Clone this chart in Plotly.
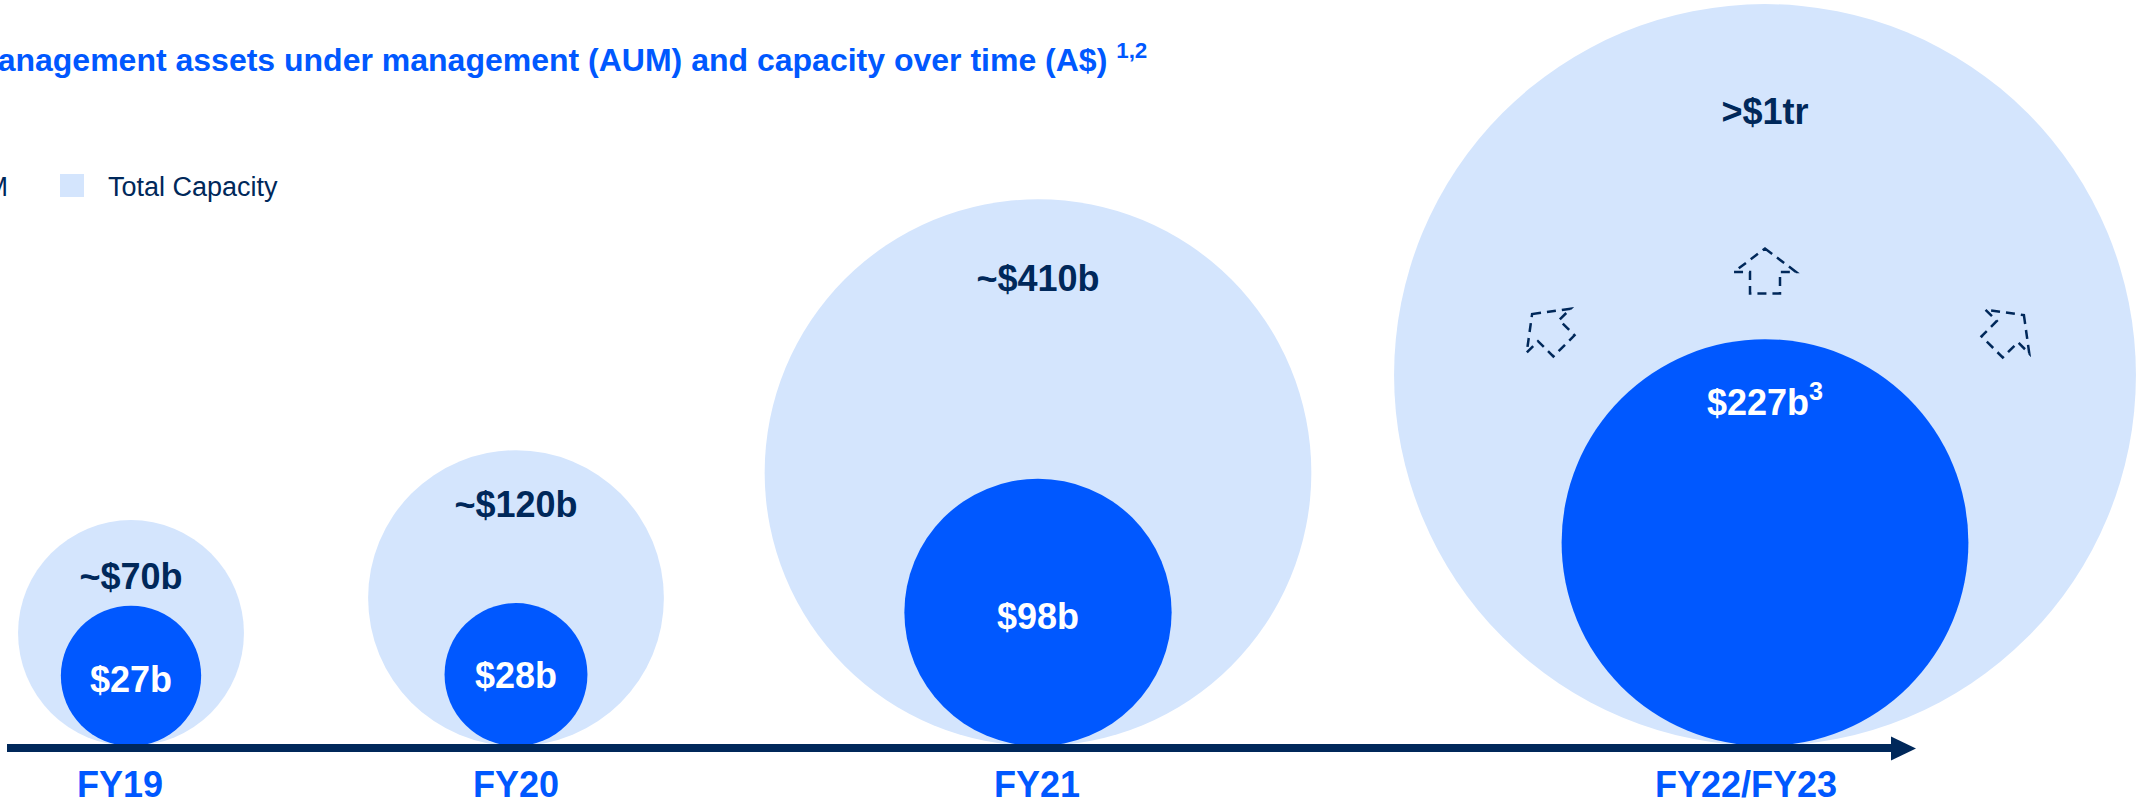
import math
import plotly.graph_objects as go

# ---------------- data ----------------
years = ["FY19", "FY20", "FY21", "FY22/FY23"]
capacity_labels = ["~$70b", "~$120b", "~$410b", ">$1tr"]
# bubble area as drawn (A$ bn); the >$1tr bubble is drawn capped in the original
capacity_bn = [70, 120, 410, 755]
aum_labels = ["$27b", "$28b", "$98b", "$227b<sup>3</sup>"]
aum_bn = [27, 28, 98, 227]

# ---------------- layout helpers (page-pixel space) ----------------
W, H = 2141, 804
x_pos = [131, 516, 1038, 1765]
year_label_x = [120, 516, 1037, 1746]
year_label_y = 788
baseline_y = 746
px_per_sqrt_bn = 13.5
cap_label_y = [580, 508, 282, 115]
aum_label_y = [683, 679, 620, 406]

LIGHT = "#D4E5FD"
BLUE = "#0058FF"
NAVY = "#00285A"
FONT = "Liberation Sans, Arial, sans-serif"

cap_r = [px_per_sqrt_bn * math.sqrt(v) for v in capacity_bn]
aum_r = [px_per_sqrt_bn * math.sqrt(v) for v in aum_bn]

fig = go.Figure()

fig.add_trace(go.Scatter(
    x=x_pos, y=[baseline_y - r for r in cap_r], mode="markers",
    marker=dict(size=[2 * r for r in cap_r], sizemode="diameter", color=LIGHT,
                opacity=1, line=dict(width=0)),
    name="Total Capacity", hoverinfo="skip", showlegend=False))

fig.add_trace(go.Scatter(
    x=x_pos, y=[baseline_y - r for r in aum_r], mode="markers",
    marker=dict(size=[2 * r for r in aum_r], sizemode="diameter", color=BLUE,
                opacity=1, line=dict(width=0)),
    name="AUM", hoverinfo="skip", showlegend=False))

fig.add_trace(go.Scatter(
    x=x_pos, y=cap_label_y, mode="text", text=capacity_labels,
    textposition="middle center",
    textfont=dict(family=FONT, size=36, color=NAVY, weight="bold"),
    hoverinfo="skip", showlegend=False, cliponaxis=False))

fig.add_trace(go.Scatter(
    x=x_pos, y=aum_label_y, mode="text", text=aum_labels,
    textposition="middle center",
    textfont=dict(family=FONT, size=36, color="white", weight="bold"),
    hoverinfo="skip", showlegend=False, cliponaxis=False))

fig.add_trace(go.Scatter(
    x=year_label_x, y=[year_label_y] * len(years), mode="text", text=years,
    textposition="middle center",
    textfont=dict(family=FONT, size=36, color=BLUE, weight="bold"),
    hoverinfo="skip", showlegend=False, cliponaxis=False))

shapes = []
# time axis with arrow head
shapes.append(dict(type="line", xref="x", yref="y", x0=7, x1=1894, y0=748, y1=748,
                   line=dict(color=NAVY, width=8), layer="above"))
shapes.append(dict(type="path", xref="x", yref="y",
                   path="M 1891,736.5 L 1916,748.5 L 1891,760.5 Z",
                   fillcolor=NAVY, line=dict(width=0), layer="above"))

# dashed expansion arrows (up arrow outline, rotated)
arrow_poly = [(0, -22.5), (31, 0.9), (15, 0.9), (15, 22.5), (-15, 22.5), (-15, 0.9), (-31, 0.9)]


def arrow_path(cx, cy, deg):
    t = math.radians(deg)
    c, s = math.cos(t), math.sin(t)
    pts = [(cx + x * c - y * s, cy + x * s + y * c) for x, y in arrow_poly]
    return "M " + " L ".join(f"{px:.1f},{py:.1f}" for px, py in pts) + " Z"


for cx, cy, deg in [(1765, 271, 0), (1548, 330, -45), (2008, 331, 45)]:
    shapes.append(dict(type="path", xref="x", yref="y", path=arrow_path(cx, cy, deg),
                       line=dict(color=NAVY, width=2.5, dash="9px,6px"),
                       fillcolor="rgba(0,0,0,0)", layer="above"))

# legend swatch
shapes.append(dict(type="rect", xref="x", yref="y", x0=60, x1=84, y0=174, y1=197,
                   fillcolor=LIGHT, line=dict(width=0), layer="above"))


def px_x(v):
    return v / W


def px_y(v):
    return 1 - v / H


annotations = [
    dict(text="Management assets under management (AUM) and capacity over time (A$) <sup>1,2</sup>",
         xref="paper", yref="paper", x=px_x(-31), y=px_y(58), xanchor="left", yanchor="middle",
         showarrow=False, font=dict(family=FONT, size=32, color=BLUE, weight="bold")),
    dict(text="AUM", xref="paper", yref="paper", x=px_x(10), y=px_y(187),
         xanchor="right", yanchor="middle", showarrow=False,
         font=dict(family=FONT, size=27, color=NAVY)),
    dict(text="Total Capacity", xref="paper", yref="paper", x=px_x(106), y=px_y(187),
         xanchor="left", yanchor="middle", showarrow=False,
         font=dict(family=FONT, size=27, color=NAVY)),
]

fig.update_layout(
    width=W, height=H,
    margin=dict(l=0, r=0, t=0, b=0),
    paper_bgcolor="white", plot_bgcolor="white",
    xaxis=dict(range=[0, W], visible=False, fixedrange=True),
    yaxis=dict(range=[H, 0], visible=False, fixedrange=True),
    shapes=shapes, annotations=annotations,
    showlegend=False,
)

fig.write_html("out.html", config={"displayModeBar": False},
               post_script="document.body.style.margin='0';document.body.style.overflow='hidden';")
